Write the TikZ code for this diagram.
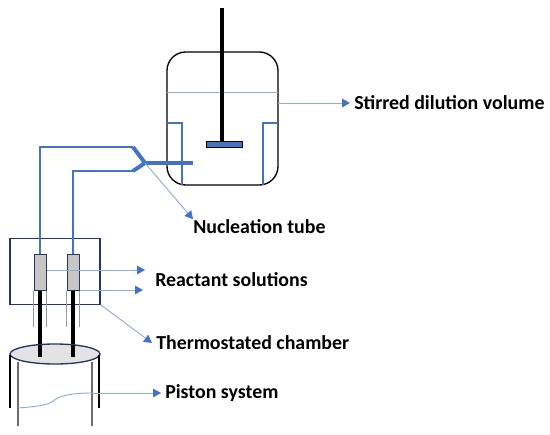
\documentclass[tikz,border=0pt]{standalone}
\usepackage{fontspec}
\setmainfont{Carlito}
\usetikzlibrary{arrows.meta,positioning,calc}
\definecolor{tubeblue}{HTML}{4472C4}
\definecolor{leaderblue}{HTML}{8FAADC}
\definecolor{navy}{HTML}{1F3864}
\begin{document}
\begin{tikzpicture}[
      x=0.75pt, y=-0.75pt,
      tube/.style={draw=tubeblue, line width=0.8pt},
      thicktube/.style={draw=tubeblue, line width=3.7pt},
      leader/.style={draw=leaderblue, line width=0.7pt, -{Triangle[length=6pt, width=6.5pt, color=tubeblue, fill=tubeblue]}},
      rod/.style={draw=black, line width=2.5pt},
      wire/.style={draw=gray!80, line width=0.7pt},
      heater/.style={draw=navy, fill=gray!45, line width=0.8pt, minimum width=9.5pt, minimum height=27.5pt, inner sep=0pt},
      lbl/.style={anchor=west, font=\fontsize{14.9pt}{17pt}\selectfont\bfseries, inner sep=0pt}
  ]
      \useasboundingbox (0, 0) rectangle (550, 435);

      % STIRRED VESSEL
      \draw[line width=1pt, rounded corners=14pt] (167, 52) rectangle (278, 185);
      \draw[leaderblue, line width=0.7pt] (167, 92.5) -- (278, 92.5);
      \draw[tube] (167, 123) -- (182, 123) -- (182, 185);
      \draw[tube] (278, 123) -- (263, 123) -- (263, 185);
      \node[draw=black, fill=tubeblue, line width=0.7pt, minimum width=27pt, minimum height=4.5pt, inner sep=0pt] (blade) at (224, 144) {};
      \coordinate (shafttop) at (222, 8);
      \draw[rod, line width=3.5pt] (shafttop) -- (shafttop |- blade.north);

      % CHAMBER
      \node[draw=navy, line width=0.9pt, minimum width=67.5pt, minimum height=49pt, inner sep=0pt] (chamber) at (55, 271.5) {};
      \node[heater] (heatA) at (40.5, 272.5) {};
      \node[heater] (heatB) at (73.5, 272.5) {};
      \coordinate (rodA) at (40, 357);
      \coordinate (rodB) at (73, 357);
      \draw[rod] (rodA |- heatA.south) -- (rodA);
      \draw[rod] (rodB |- heatB.south) -- (rodB);
      \foreach \x in {33.5, 46, 66.5, 79} {
        \draw[wire] (\x, 291) -- (\x, 327);
      }

      % FEED LINES
      \coordinate (junction) at (145, 163);
      \coordinate (tubeend) at (193, 163);
      \coordinate (forkA) at (133, 147);
      \coordinate (forkB) at (133, 171);
      \draw[thicktube] (junction) -- (tubeend);
      \draw[thicktube, line width=3pt] (forkA) -- (junction) -- (forkB);
      \draw[tube] (forkA) -| (heatA.north -| rodA);
      \draw[tube] (forkB) -| (heatB.north -| rodB);

      % PISTON
      \draw[draw=navy, fill=gray!22, line width=1pt] (55, 354) ellipse [x radius=45, y radius=10];
      \draw[rod] (40, 345) -- (rodA);
      \draw[rod] (73, 345) -- (rodB);
      \draw[black, line width=1.2pt] (10, 355) -- (10, 408);
      \draw[black, line width=1.2pt] (99, 355) -- (99, 408);
      \draw[gray!85!black, line width=0.9pt] (18, 362) -- (18, 426);
      \draw[gray!85!black, line width=0.9pt] (92, 362) -- (92, 426);
      \coordinate (pistonR) at (92, 393);
      \draw[leaderblue, line width=0.7pt] (18, 408) .. controls (45, 406) and (50, 404) .. (56, 399) .. controls (62, 395) and (75, 393) .. (pistonR);

      % LABELS
      \node[lbl] (stirred) at (354, 103) {Stirred dilution volume};
      \node[lbl] (nucl) at (193, 226.5) {Nucleation tube};
      \node[lbl] (react) at (155, 279.5) {Reactant solutions};
      \node[lbl] (thermo) at (156, 343) {Thermostated chamber};
      \node[lbl] (piston) at (165, 393) {Piston system};

      \draw[leader] (278, 103) -- ([xshift=-3pt]stirred.west);
      \draw[leader] (junction) -- (nucl.north west);
      \coordinate (reactA) at (145, 270);
      \coordinate (reactB) at (143, 290);
      \draw[leader] (heatA.east |- reactA) -- (reactA);
      \draw[leader] (heatB.east |- reactB) -- (reactB);
      \draw[leader] (chamber.south east) -- ([xshift=-3pt]thermo.west);
      \draw[leader] (pistonR) -- ([xshift=-3pt]piston.west);
  \end{tikzpicture}
\end{document}
